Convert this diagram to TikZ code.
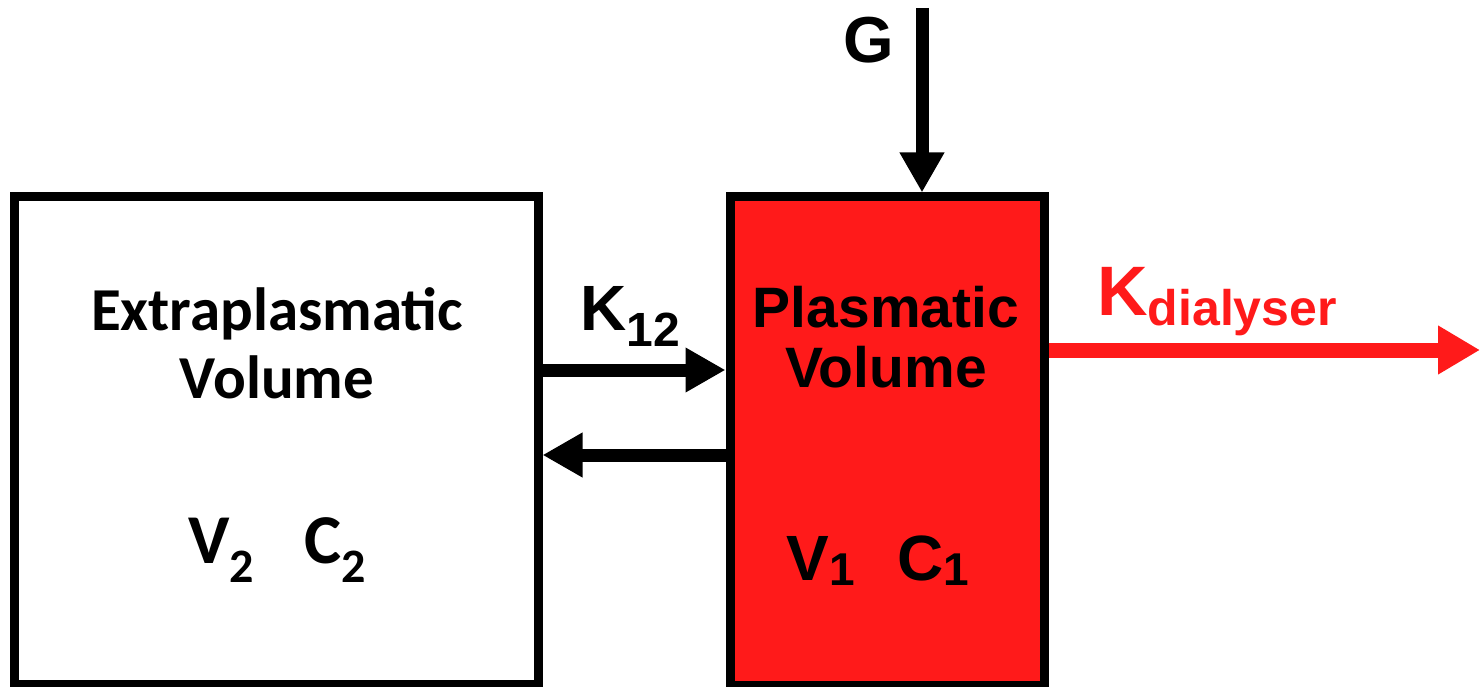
\documentclass[tikz,border=0pt]{standalone}
\usepackage{fontspec}
\usetikzlibrary{arrows.meta,calc}
\newfontfamily\calb{Carlito}[BoldFont=* Bold]
\newfontfamily\arb{Liberation Sans}[BoldFont=* Bold]
\definecolor{boxred}{RGB}{255,26,26}
\newcommand{\fs}[1]{\fontsize{#1}{#1}\selectfont}
\tikzset{
  box/.style={draw=black, line width=9pt, inner sep=0pt, outer sep=4.5pt},
  lbl/.style={inner sep=0pt, anchor=base},
  flow/.style={line width=13pt, -{Triangle[length=40pt,width=42pt]}},
  outflow/.style={line width=15pt, draw=boxred, -{Triangle[length=42pt,width=46pt]}}
}
\begin{document}
\begin{tikzpicture}[x=1pt,y=-1pt]
\useasboundingbox (0,0) rectangle (1481,687);
\node[box, fill=white, minimum width=524pt, minimum height=487pt] (ext) at (276,440.5) {};
\node[box, fill=boxred, minimum width=314pt, minimum height=488pt] (pla) at (887,441) {};
% texts
\node[lbl] (t1) at (277,330) {\calb\bfseries\fs{61}Extraplasmatic};
\node[lbl] (t2) at (277,398) {\calb\bfseries\fs{61}Volume};
\node[lbl] (t3) at (277,563) {\calb\bfseries\fs{70}V\raisebox{-19pt}{\fs{48}2}\hspace{50pt}C\raisebox{-19pt}{\fs{48}2}};
\node[lbl] (t4) at (886,327) {\arb\bfseries\fs{57}Plasmatic};
\node[lbl] (t5) at (886,387) {\arb\bfseries\fs{57}Volume};
\node[lbl] (t6) at (878,580) {\arb\bfseries\fs{64}V\raisebox{-5pt}{\fs{46}1}\hspace{42pt}C\raisebox{-5pt}{\fs{46}1}};
\node[lbl, anchor=base west] (k12) at (580,330) {\arb\bfseries\fs{64}K\raisebox{-17pt}{\fs{48}12}};
\node[lbl, anchor=base west] (g) at (843,63) {\arb\bfseries\fs{65}G};
\node[lbl, anchor=base west, text=boxred] (kd) at (1097,315) {\arb\bfseries\fs{70}K\raisebox{-10pt}{\fs{50}dialyser}};
% connectors
\coordinate (ya) at (0,370);
\coordinate (yb) at (0,455);
\coordinate (yr) at (0,350);
\coordinate (gtop) at (922,8);
\coordinate (rend) at (1480,350);
\draw[flow] (ext.east |- ya) -- (pla.west |- ya);
\draw[flow] (pla.west |- yb) -- (ext.east |- yb);
\draw[flow] (gtop) -- (gtop |- pla.north);
\draw[outflow] (pla.east |- yr) -- (rend);
\end{tikzpicture}
\end{document}
